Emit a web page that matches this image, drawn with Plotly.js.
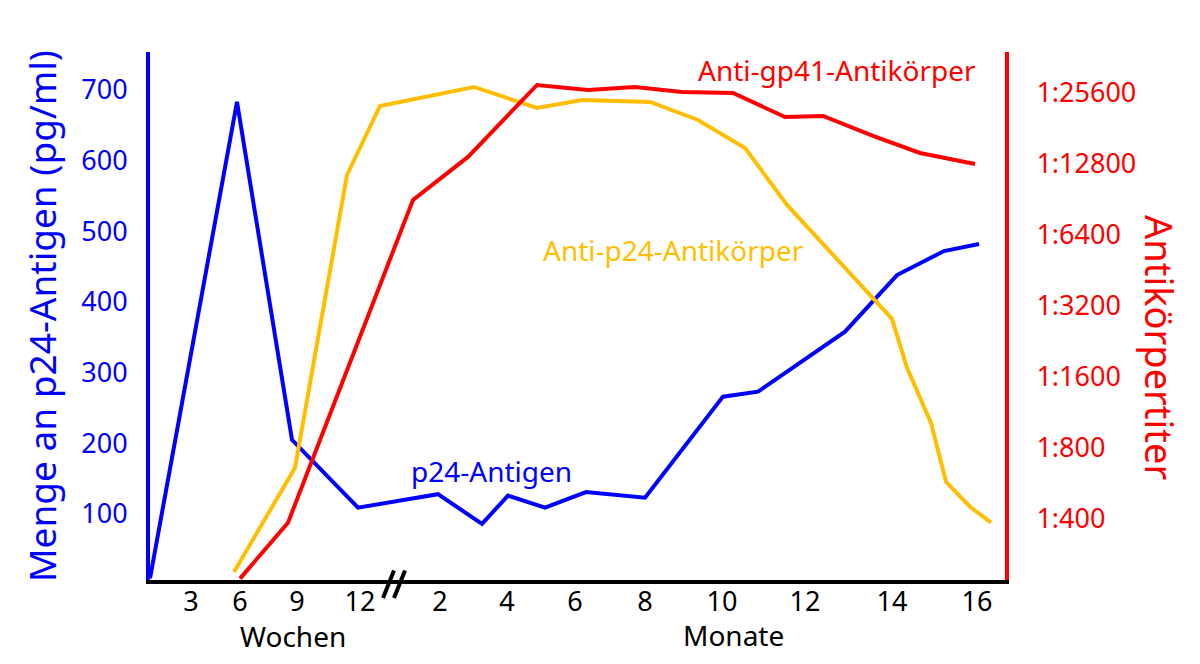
<!DOCTYPE html>
<html>
<head>
<meta charset="utf-8">
<script src="https://cdn.plot.ly/plotly-3.0.1.min.js"></script>
<style>
  body { margin: 0; background: #fff; }
  #chart { width: 1200px; height: 664px; }
</style>
</head>
<body>
<div id="chart"></div>
<script>
// Zeitachse: Position entlang der x-Achse (Wochen links vom Bruch, Monate rechts)
const wochenPos = [41, 90, 147, 210];
const wochenText = ['3', '6', '9', '12'];
const monatePos = [290, 357, 425, 495, 572, 655, 742, 827];
const monateText = ['2', '4', '6', '8', '10', '12', '14', '16'];

// p24-Antigen (pg/ml), linke Achse
const p24X = [0, 87, 142, 208, 288, 332, 358, 395, 436, 495, 573, 608, 695, 747, 794, 829];
const p24Y = [9, 683, 205, 109, 128, 86, 126, 109, 131, 123, 266, 273, 358, 438, 472, 482];

// Anti-p24-Antikörper (Titer), rechte Achse
const antiP24X = [84, 145, 197, 230, 324, 387, 432, 500, 548, 595, 637, 742, 757, 781, 796, 820, 841];
const antiP24Y = [238, 658, 11490, 22560, 27150, 22110, 23900, 23450, 19670, 14960, 8580, 2819, 1747, 1021, 574, 450, 385];

// Anti-gp41-Antikörper (Titer), rechte Achse
const gp41X = [90, 138, 263, 318, 387, 438, 485, 532, 583, 635, 673, 723, 770, 825];
const gp41Y = [223, 385, 9010, 13710, 27680, 26360, 27150, 25850, 25600, 20250, 20450, 16820, 14250, 12800];

// Titer-Ticks
const titerVals = [400, 800, 1600, 3200, 6400, 12800, 25600];
const titerText = titerVals.map(v => '1:' + v);

const blau = '#0000ff';
const rot = '#ff0000';
const gelb = '#ffbf00';
const schrift = 'Noto Sans, Open Sans, sans-serif';

const data = [
    {
        x: antiP24X, y: antiP24Y, yaxis: 'y2',
        type: 'scatter', mode: 'lines',
        line: { color: gelb, width: 4 }
    },
    {
        x: gp41X, y: gp41Y, yaxis: 'y2',
        type: 'scatter', mode: 'lines',
        line: { color: rot, width: 4 }
    },
    {
        x: p24X, y: p24Y,
        type: 'scatter', mode: 'lines',
        line: { color: blau, width: 4 }
    }
];

const layout = {
    width: 1200,
    height: 664,
    margin: { l: 150, r: 195, t: 52, b: 84 },
    showlegend: false,
    paper_bgcolor: '#fff',
    plot_bgcolor: '#fff',
    font: { family: schrift },
    xaxis: {
        range: [0, 855],
        tickvals: wochenPos.concat(monatePos),
        ticktext: wochenText.concat(monateText),
        tickfont: { size: 27, color: '#000' },
        showgrid: false,
        zeroline: false,
        showline: true,
        linecolor: '#000',
        linewidth: 4,
        ticks: '',
        ticklabelstandoff: -5
    },
    yaxis: {
        range: [6.6, 753.6],
        tickvals: [100, 200, 300, 400, 500, 600, 700],
        tickfont: { size: 27, color: blau },
        showgrid: false,
        zeroline: false,
        showline: true,
        linecolor: blau,
        linewidth: 4,
        ticks: 'outside',
        ticklen: 13,
        tickcolor: 'rgba(0,0,0,0)',
        title: { text: 'Menge an p24-Antigen (pg/ml)', font: { size: 37, color: blau }, standoff: 14 }
    },
    yaxis2: {
        type: 'log',
        overlaying: 'y',
        side: 'right',
        range: [Math.log10(220), Math.log10(38200)],
        tickvals: titerVals,
        ticktext: titerText,
        tickfont: { size: 27, color: rot },
        showgrid: false,
        zeroline: false,
        showline: true,
        linecolor: rot,
        linewidth: 4,
        ticks: 'outside',
        ticklen: 22,
        tickcolor: 'rgba(0,0,0,0)'
    },
    annotations: [
        { text: 'p24-Antigen', x: 341, y: 161, xref: 'x', yref: 'y', showarrow: false,
          font: { size: 28, color: blau } },
        // auf der Log-Achse werden Annotationen in log10-Einheiten angegeben
        { text: 'Anti-p24-Antikörper', x: 523, y: Math.log10(5500), xref: 'x', yref: 'y2', showarrow: false,
          font: { size: 28, color: gelb } },
        { text: 'Anti-gp41-Antikörper', x: 687, y: Math.log10(32000), xref: 'x', yref: 'y2', showarrow: false,
          font: { size: 28, color: rot } },
        { text: 'Antikörpertiter', x: (1160 - 150) / 855, y: (580 - 347) / 528, xref: 'paper', yref: 'paper',
          xanchor: 'center', yanchor: 'middle', showarrow: false,
          textangle: 90, font: { size: 38, color: rot } },
        { text: 'Wochen', x: 143, y: -0.106, xref: 'x', yref: 'paper', yanchor: 'middle', showarrow: false,
          font: { size: 28, color: '#000' } },
        { text: 'Monate', x: 583, y: -0.104, xref: 'x', yref: 'paper', yanchor: 'middle', showarrow: false,
          font: { size: 28, color: '#000' } }
    ],
    shapes: [
        { type: 'line', xref: 'x', yref: 'paper', x0: 233, y0: -0.034, x1: 244, y1: 0.018,
          line: { color: '#000', width: 4 } },
        { type: 'line', xref: 'x', yref: 'paper', x0: 244, y0: -0.034, x1: 255, y1: 0.018,
          line: { color: '#000', width: 4 } }
    ]
};

Plotly.newPlot('chart', data, layout, { displayModeBar: false });
</script>
</body>
</html>
